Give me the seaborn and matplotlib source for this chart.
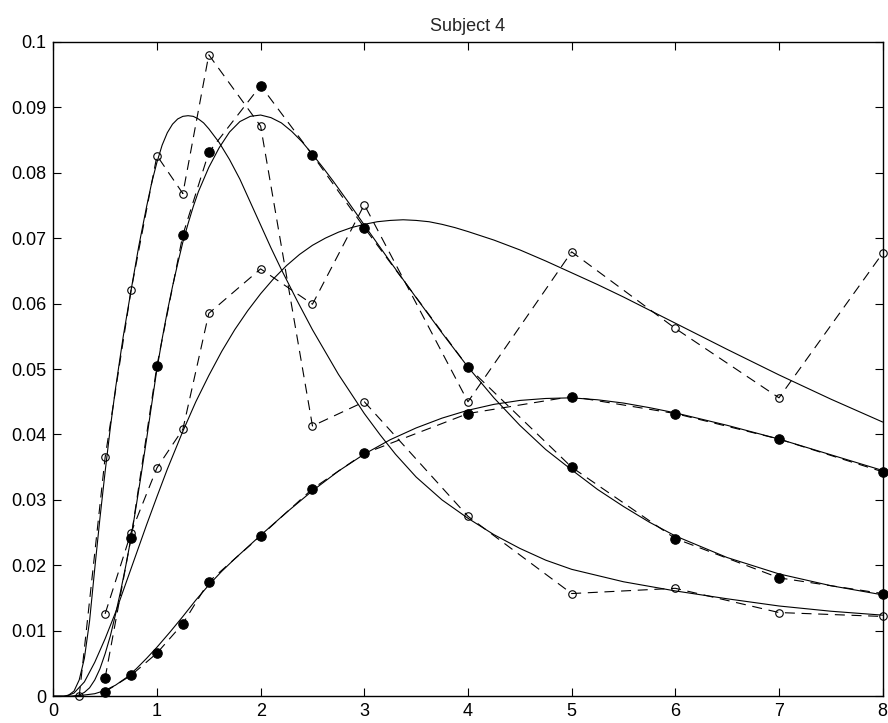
import matplotlib
matplotlib.use("Agg")
import matplotlib.pyplot as plt
import pandas as pd
import seaborn as sns

# ---- measured concentrations (dashed lines with markers) ----
t_open1 = [0.25, 0.5, 0.75, 1, 1.25, 1.5, 2, 2.5, 3, 4, 5, 6, 7, 8]
c_open1 = [0.0, 0.0365, 0.0620, 0.0826, 0.0768, 0.0980, 0.0871, 0.0413,
           0.0450, 0.0275, 0.0157, 0.0165, 0.0128, 0.0122]

t_fill1 = [0.5, 0.75, 1, 1.25, 1.5, 2, 2.5, 3, 4, 5, 6, 7, 8]
c_fill1 = [0.0028, 0.0242, 0.0505, 0.0705, 0.0831, 0.0933, 0.0827, 0.0716,
           0.0503, 0.0350, 0.0241, 0.0181, 0.0157]

t_open2 = [0.5, 0.75, 1, 1.25, 1.5, 2, 2.5, 3, 4, 5, 6, 7, 8]
c_open2 = [0.0126, 0.0250, 0.0349, 0.0408, 0.0585, 0.0653, 0.0599, 0.0751,
           0.0450, 0.0679, 0.0562, 0.0456, 0.0677]

t_fill2 = [0.5, 0.75, 1, 1.25, 1.5, 2, 2.5, 3, 4, 5, 6, 7, 8]
c_fill2 = [0.0007, 0.0032, 0.0066, 0.0111, 0.0175, 0.0245, 0.0317, 0.0371,
           0.0432, 0.0458, 0.0432, 0.0393, 0.0343]

# ---- fitted model curves (solid lines) ----
fit1_t = [0, 0.10, 0.15, 0.20, 0.25, 0.30, 0.35, 0.40, 0.45, 0.50, 0.55, 0.60,
          0.675, 0.75, 0.825, 0.90, 0.95, 1.00, 1.05, 1.10, 1.15, 1.20, 1.25,
          1.30, 1.35, 1.40, 1.45, 1.50, 1.60, 1.70, 1.80, 1.90, 2.00, 2.10,
          2.20, 2.35, 2.50, 2.75, 3.00, 3.15, 3.30, 3.50, 3.75, 4.00, 4.25,
          4.50, 4.75, 5.00, 5.50, 6.00, 6.50, 7.00, 7.50, 8.00]
fit1_c = [0, 0, 0.0002, 0.0008, 0.0025, 0.0058, 0.0115, 0.0195, 0.0272, 0.0343,
          0.0410, 0.0470, 0.0550, 0.0620, 0.0688, 0.0748, 0.0785, 0.0816,
          0.0842, 0.0861, 0.0874, 0.0882, 0.0886, 0.0887, 0.0886, 0.0882,
          0.0876, 0.0867, 0.0846, 0.0820, 0.0790, 0.0755, 0.0720, 0.0685,
          0.0652, 0.0605, 0.0560, 0.0492, 0.0432, 0.0400, 0.0370, 0.0335,
          0.0300, 0.0272, 0.0247, 0.0226, 0.0208, 0.0194, 0.0175, 0.0161,
          0.0149, 0.0138, 0.0130, 0.0124]

fit2_t = [0, 0.18, 0.25, 0.30, 0.35, 0.40, 0.45, 0.50, 0.55, 0.60, 0.65, 0.70,
          0.75, 0.80, 0.85, 0.90, 0.95, 1.00, 1.05, 1.10, 1.15, 1.20, 1.25,
          1.30, 1.35, 1.40, 1.50, 1.60, 1.70, 1.80, 1.90, 2.00, 2.10, 2.20,
          2.30, 2.40, 2.50, 2.60, 2.70, 2.85, 3.00, 3.25, 3.50, 3.75, 4.00,
          4.25, 4.50, 4.75, 5.00, 5.25, 5.50, 5.75, 6.00, 6.50, 7.00, 7.50, 8.00]
fit2_c = [0, 0, 0.0002, 0.0006, 0.0013, 0.0025, 0.0042, 0.0065, 0.0092, 0.0125,
          0.0161, 0.0200, 0.0242, 0.0291, 0.0341, 0.0393, 0.0447, 0.0500,
          0.0546, 0.0588, 0.0626, 0.0661, 0.0694, 0.0722, 0.0748, 0.0771,
          0.0808, 0.0838, 0.0862, 0.0878, 0.0886, 0.0888, 0.0884, 0.0876,
          0.0863, 0.0847, 0.0828, 0.0808, 0.0787, 0.0754, 0.0720, 0.0664,
          0.0609, 0.0555, 0.0503, 0.0456, 0.0414, 0.0377, 0.0346, 0.0316,
          0.0290, 0.0266, 0.0245, 0.0212, 0.0187, 0.0169, 0.0155]

fit3_t = [0, 0.12, 0.20, 0.30, 0.40, 0.50, 0.60, 0.75, 0.90, 1.00, 1.10, 1.25,
          1.375, 1.50, 1.625, 1.75, 1.875, 2.00, 2.125, 2.25, 2.375, 2.50,
          2.625, 2.75, 2.875, 3.00, 3.125, 3.25, 3.375, 3.50, 3.625, 3.75,
          3.875, 4.00, 4.25, 4.50, 4.75, 5.00, 5.25, 5.50, 5.75, 6.00, 6.50,
          7.00, 7.50, 8.00]
fit3_c = [0, 0, 0.0005, 0.0022, 0.0052, 0.0088, 0.0128, 0.0195, 0.0262, 0.0305,
          0.0347, 0.0405, 0.0450, 0.0490, 0.0527, 0.0560, 0.0589, 0.0615,
          0.0638, 0.0658, 0.0675, 0.0689, 0.0700, 0.0709, 0.0716, 0.0721,
          0.0725, 0.0727, 0.0728, 0.0727, 0.0725, 0.0721, 0.0716, 0.0710,
          0.0697, 0.0682, 0.0665, 0.0647, 0.0629, 0.0610, 0.0590, 0.0570,
          0.0530, 0.0491, 0.0454, 0.0419]

fit4_t = [0, 0.12, 0.20, 0.30, 0.40, 0.50, 0.60, 0.70, 0.80, 0.90, 1.00, 1.125,
          1.25, 1.375, 1.50, 1.625, 1.75, 1.875, 2.00, 2.25, 2.50, 2.75, 3.00,
          3.25, 3.50, 3.75, 4.00, 4.25, 4.50, 4.75, 5.00, 5.25, 5.50, 5.75,
          6.00, 6.50, 7.00, 7.50, 8.00]
fit4_c = [0, 0, 0.00003, 0.0002, 0.0004, 0.0009, 0.0017, 0.0028, 0.0042, 0.0058,
          0.0075, 0.0098, 0.0122, 0.0147, 0.0170, 0.0191, 0.0210, 0.0228,
          0.0246, 0.0281, 0.0314, 0.0344, 0.0370, 0.0392, 0.0410, 0.0425,
          0.0437, 0.0446, 0.0452, 0.0455, 0.0456, 0.0453, 0.0448, 0.0441,
          0.0433, 0.0414, 0.0393, 0.0369, 0.0345]

x_ticks = [0, 1, 2, 3, 4, 5, 6, 7, 8]
y_ticks = [0, 0.01, 0.02, 0.03, 0.04, 0.05, 0.06, 0.07, 0.08, 0.09, 0.1]
y_tick_labels = ["0", "0.01", "0.02", "0.03", "0.04", "0.05", "0.06",
                 "0.07", "0.08", "0.09", "0.1"]

sns.set_theme(style="ticks")
plt.rcParams["font.family"] = ["Liberation Sans", "DejaVu Sans"]

fig = plt.figure(figsize=(8.88, 7.23), dpi=100)
ax = fig.add_axes([0.060, 0.0369, 0.934, 0.9054])

LW = 0.8
DASH = (9, 6)

# fitted curves
for ft, fc in [(fit1_t, fit1_c), (fit2_t, fit2_c), (fit3_t, fit3_c), (fit4_t, fit4_c)]:
    df = pd.DataFrame({"t": ft, "c": fc})
    sns.lineplot(data=df, x="t", y="c", ax=ax, color="black", lw=LW,
                 sort=False, estimator=None, legend=False)

# measured data, dashed with markers
for tt, cc, filled in [(t_open1, c_open1, False), (t_fill1, c_fill1, True),
                       (t_open2, c_open2, False), (t_fill2, c_fill2, True)]:
    df = pd.DataFrame({"t": tt, "c": cc})
    sns.lineplot(data=df, x="t", y="c", ax=ax, color="black", lw=LW,
                 dashes=False, sort=False, estimator=None, legend=False,
                 linestyle=(0, DASH), marker="o",
                 markersize=6.8 if filled else 5.4,
                 markerfacecolor="black" if filled else "none",
                 markeredgecolor="black", markeredgewidth=0.8,
                 clip_on=False, zorder=3)

ax.set_xlim(0, 8)
ax.set_ylim(0, 0.1)
ax.set_xticks(x_ticks)
ax.set_xticklabels([str(v) for v in x_ticks])
ax.set_yticks(y_ticks)
ax.set_yticklabels(y_tick_labels)
ax.set_xlabel("")
ax.set_ylabel("")
ax.set_title("Subject 4", fontsize=13, pad=8)

for side in ["top", "right", "bottom", "left"]:
    ax.spines[side].set_visible(True)
    ax.spines[side].set_color("black")
    ax.spines[side].set_linewidth(1.0)
ax.tick_params(direction="in", length=6, width=0.8, colors="black",
               labelsize=13, top=True, right=True, pad=5)

fig.savefig("out.png", dpi=100)
